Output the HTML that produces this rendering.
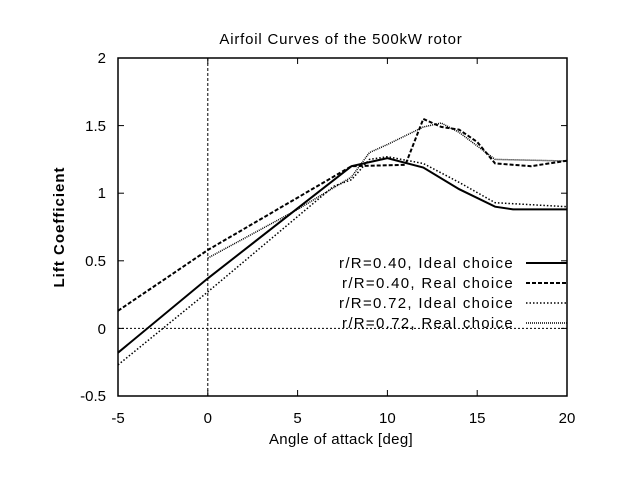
<!DOCTYPE html>
<html><head><style>body{margin:0;background:#fff}svg text{font-family:"Liberation Sans",sans-serif;font-size:15px;fill:#000}</style></head><body>
<svg width="620" height="480" viewBox="0 0 620 480" xmlns="http://www.w3.org/2000/svg">
<rect x="0" y="0" width="620" height="480" fill="#fff"/>
<text x="341" y="44" text-anchor="middle" style="letter-spacing:0.8px">Airfoil Curves of the 500kW rotor</text>
<line x1="118" y1="328.4" x2="567" y2="328.4" stroke="#000" stroke-width="1" stroke-dasharray="2,2"/>
<line x1="207.8" y1="58" x2="207.8" y2="396" stroke="#000" stroke-width="1" stroke-dasharray="3,2"/>
<rect x="118" y="58" width="449" height="338" fill="none" stroke="#000" stroke-width="1.5"/>
<g stroke="#000" stroke-width="1">
<line x1="118" y1="58" x2="124" y2="58"/><line x1="561" y1="58" x2="567" y2="58"/>
<line x1="118" y1="125.6" x2="124" y2="125.6"/><line x1="561" y1="125.6" x2="567" y2="125.6"/>
<line x1="118" y1="193.2" x2="124" y2="193.2"/><line x1="561" y1="193.2" x2="567" y2="193.2"/>
<line x1="118" y1="260.8" x2="124" y2="260.8"/><line x1="561" y1="260.8" x2="567" y2="260.8"/>
<line x1="118" y1="328.4" x2="124" y2="328.4"/><line x1="561" y1="328.4" x2="567" y2="328.4"/>
<line x1="207.8" y1="396" x2="207.8" y2="390"/><line x1="207.8" y1="58" x2="207.8" y2="64"/>
<line x1="297.6" y1="396" x2="297.6" y2="390"/><line x1="297.6" y1="58" x2="297.6" y2="64"/>
<line x1="387.4" y1="396" x2="387.4" y2="390"/><line x1="387.4" y1="58" x2="387.4" y2="64"/>
<line x1="477.2" y1="396" x2="477.2" y2="390"/><line x1="477.2" y1="58" x2="477.2" y2="64"/>
</g>
<g text-anchor="end">
<text x="106" y="63">2</text><text x="106" y="131">1.5</text><text x="106" y="198">1</text><text x="106" y="266">0.5</text><text x="106" y="334">0</text><text x="106" y="401">-0.5</text>
</g>
<g text-anchor="middle">
<text x="118" y="423">-5</text><text x="207.8" y="423">0</text><text x="297.6" y="423">5</text><text x="387.4" y="423">10</text><text x="477.2" y="423">15</text><text x="567" y="423">20</text>
<text x="341" y="444" style="letter-spacing:0.35px">Angle of attack [deg]</text>
</g>
<text transform="translate(64,227) rotate(-90)" text-anchor="middle" style="font-weight:bold;letter-spacing:1px">Lift Coefficient</text>
<g fill="none" stroke="#000">
<polyline stroke-width="2" points="118,352.7 207.8,278.4 351.5,166.2 387.4,158.1 423.3,167.5 459.2,189.2 495.1,206.7 513,209.4 567,209.4"/>
<polyline stroke-width="2" stroke-dasharray="4,2" points="118,310.8 207.8,250 351.5,166.2 405.4,164.8 423.3,118.9 441.2,126.9 459.2,129.7 477.2,142 495.1,163.4 531,166.2 567,160.7"/>
<polyline stroke-width="1.5" stroke-dasharray="1.5,2" points="118,364.9 207.8,291.9 333.5,186.4 351.5,179.7 369.4,159.4 387.4,156.7 423.3,163.5 459.2,182.4 495.1,202.7 567,206.7"/>
<polyline stroke-width="1.5" stroke-dasharray="1,1" points="207.8,258.1 297.6,209.4 351.5,177 369.4,152.6 387.4,144.5 423.3,127 441.2,123 459.2,132.4 495.1,159.4 567,161"/>
</g>
<g text-anchor="end" style="letter-spacing:1.3px">
<text x="514" y="268">r/R=0.40, Ideal choice</text>
<text x="514" y="288">r/R=0.40, Real choice</text>
<text x="514" y="308">r/R=0.72, Ideal choice</text>
<text x="514" y="328">r/R=0.72, Real choice</text>
</g>
<g fill="none" stroke="#000">
<line x1="526" y1="263" x2="567" y2="263" stroke-width="2"/>
<line x1="526" y1="283" x2="567" y2="283" stroke-width="2" stroke-dasharray="4,2"/>
<line x1="526" y1="303" x2="567" y2="303" stroke-width="1.5" stroke-dasharray="1.5,2"/>
<line x1="526" y1="323" x2="567" y2="323" stroke-width="1.5" stroke-dasharray="1,1"/>
</g>
</svg>
</body></html>
